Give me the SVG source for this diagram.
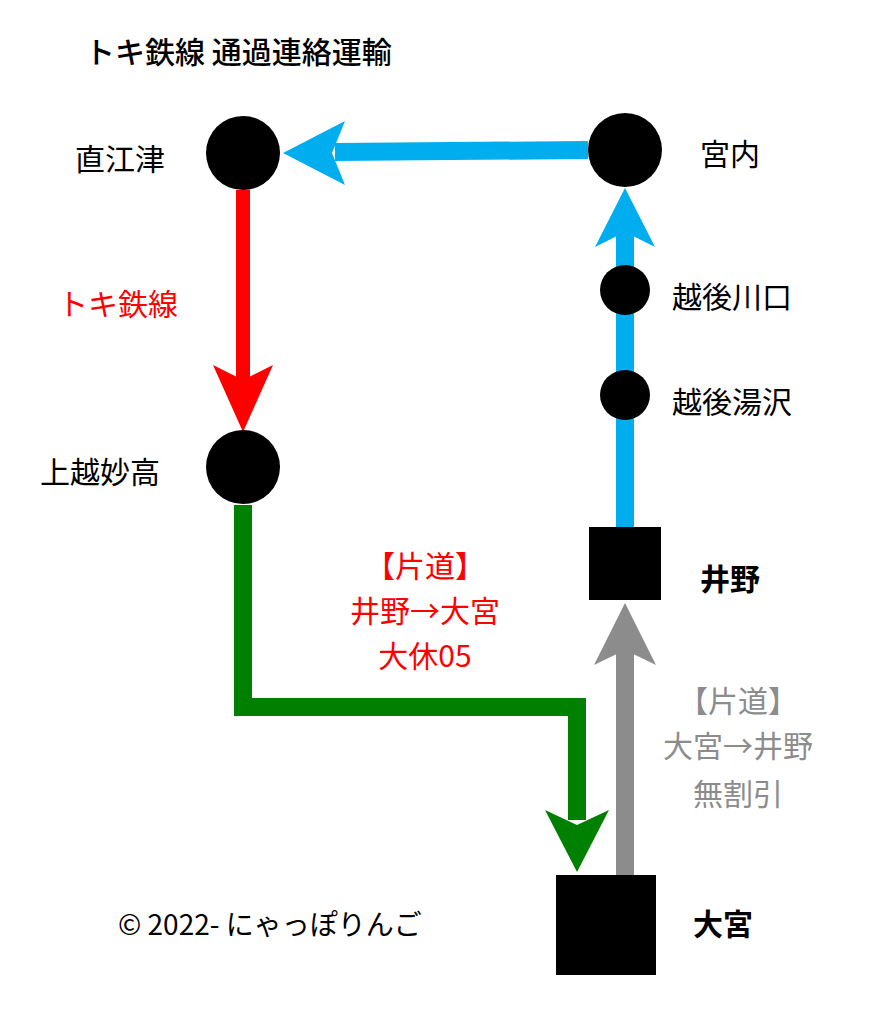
<svg xmlns="http://www.w3.org/2000/svg" width="891" height="1024" viewBox="0 0 891 1024">
<style>
text{font-family:"Noto Sans CJK JP","Noto Sans",sans-serif;font-size:30px;fill:#000}
.b{font-weight:bold}
.r{fill:#ff0000}
.g{fill:#8c8c8c}
.c{text-anchor:middle}
</style>
<rect width="891" height="1024" fill="#fff"/>
<text x="85" y="63" font-weight="500">トキ鉄線 通過連絡運輸</text>
<g id="connectors">
<path d="M588 150 L335 152" stroke="#00aeef" stroke-width="18" fill="none"/>
<polygon points="283,153 345,121 332,153 345,185" fill="#00aeef"/>
<path d="M243 190 L243 380" stroke="#ff0000" stroke-width="14" fill="none"/>
<polygon points="243,432 213,365 243,380 273,365" fill="#ff0000"/>
<path d="M243 505 L243 707 L577 707 L577 820" stroke="#008000" stroke-width="18" fill="none"/>
<polygon points="577,872 545,810 577,825 609,810" fill="#008000"/>
<path d="M625 875 L625 650" stroke="#8c8c8c" stroke-width="18" fill="none"/>
<polygon points="625,603 594,665 625,650 656,665" fill="#8c8c8c"/>
<path d="M625 527 L625 230" stroke="#00aeef" stroke-width="18" fill="none"/>
<polygon points="625,188 595,247 625,232 655,247" fill="#00aeef"/>
</g>
<g id="naoetsu"><circle cx="243" cy="153" r="37"/><text x="75" y="170">直江津</text></g>
<g id="miyauchi"><circle cx="625" cy="150" r="37"/><text x="700" y="165">宮内</text></g>
<g id="echigokawaguchi"><circle cx="625" cy="290" r="25"/><text x="672" y="308">越後川口</text></g>
<g id="echigoyuzawa"><circle cx="625" cy="395" r="25"/><text x="672" y="413">越後湯沢</text></g>
<g id="joetsumyoko"><circle cx="243" cy="467" r="37"/><text x="40" y="483">上越妙高</text></g>
<g id="ino"><rect x="589" y="527" width="72" height="73"/><text class="b" x="700" y="590">井野</text></g>
<g id="omiya"><rect x="556" y="875" width="100" height="100"/><text class="b" x="693" y="935">大宮</text></g>
<text class="r" x="58" y="315">トキ鉄線</text>
<text class="r c" x="425" y="577">【片道】</text>
<text class="r c" x="425" y="622">井野→大宮</text>
<text class="r c" x="425" y="667">大休05</text>
<text class="g c" x="738" y="712">【片道】</text>
<text class="g c" x="738" y="757">大宮→井野</text>
<text class="g c" x="738" y="805">無割引</text>
<text x="118" y="935" style="font-size:28px">© 2022- にゃっぽりんご</text>
</svg>
